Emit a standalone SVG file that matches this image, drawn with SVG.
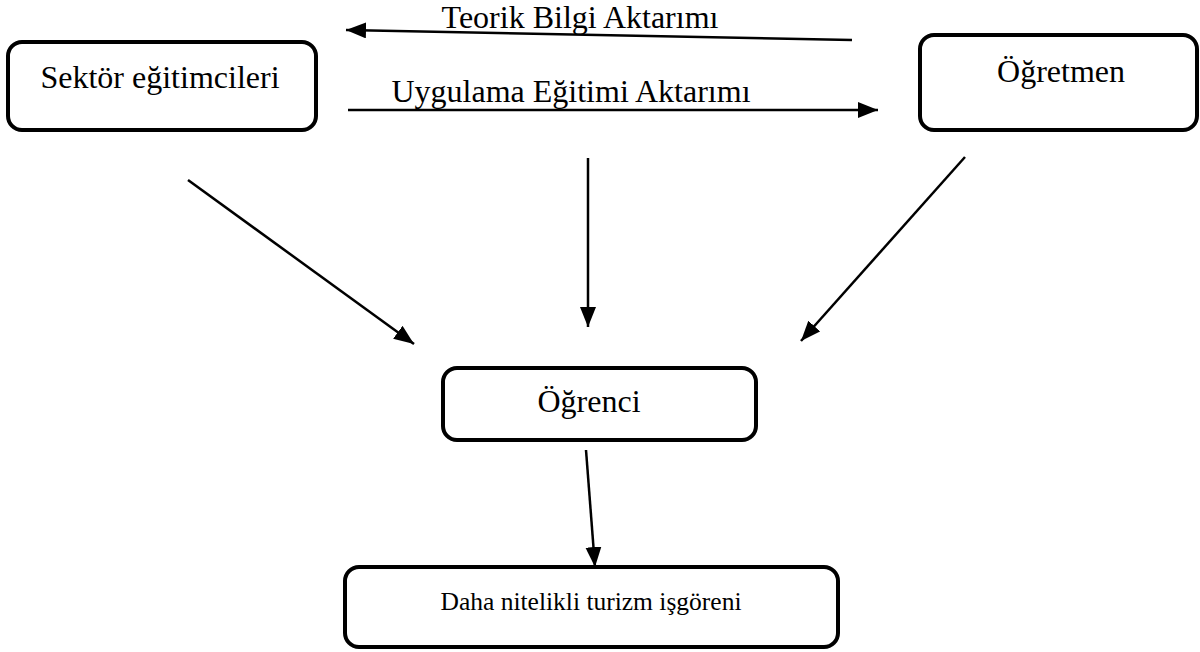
<svg xmlns="http://www.w3.org/2000/svg" width="1200" height="652" viewBox="0 0 1200 652">
<style>
.box{fill:#fff;stroke:#000;stroke-width:4}
.lbl{font-family:"Liberation Serif","Times New Roman",serif;font-size:32px;fill:#000;text-anchor:middle}
.edge{stroke:#000;stroke-width:2.5;fill:none;marker-end:url(#ah)}
</style>
<defs>
<marker id="ah" markerUnits="userSpaceOnUse" markerWidth="22" markerHeight="18" refX="20" refY="8" orient="auto">
<path d="M0,0 L20,8 L0,16 Z" fill="#000"/>
</marker>
</defs>
<rect width="1200" height="652" fill="#fff"/>
<g id="connectors">
<line class="edge" x1="852" y1="40" x2="346" y2="30"/>
<line class="edge" x1="348" y1="110" x2="878" y2="110"/>
<line class="edge" x1="188" y1="180" x2="414" y2="344"/>
<line class="edge" x1="588" y1="158" x2="588" y2="327"/>
<line class="edge" x1="965" y1="157" x2="801" y2="341"/>
<line class="edge" x1="586" y1="450" x2="595" y2="567"/>
</g>
<g id="labels">
<text class="lbl" x="580" y="28">Teorik Bilgi Aktarımı</text>
<text class="lbl" x="571" y="102">Uygulama Eğitimi Aktarımı</text>
</g>
<g id="sektor">
<rect class="box" x="8" y="42" width="308" height="88" rx="14"/>
<text class="lbl" x="160" y="88">Sektör eğitimcileri</text>
</g>
<g id="ogretmen">
<rect class="box" x="920" y="35" width="277" height="95" rx="14"/>
<text class="lbl" x="1061" y="82">Öğretmen</text>
</g>
<g id="ogrenci">
<rect class="box" x="443" y="368" width="313" height="72" rx="14"/>
<text class="lbl" x="589" y="412">Öğrenci</text>
</g>
<g id="daha">
<rect class="box" x="345" y="567" width="493" height="80" rx="14"/>
<text class="lbl" x="591" y="610" style="font-size:25.5px">Daha nitelikli turizm işgöreni</text>
</g>
</svg>
